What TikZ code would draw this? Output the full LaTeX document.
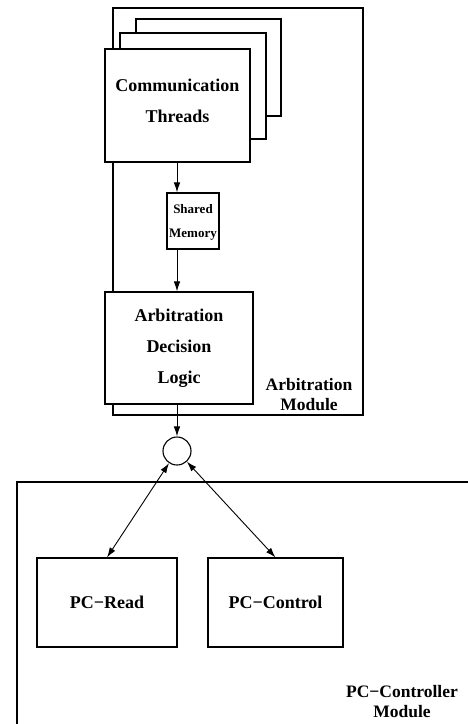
\documentclass[tikz,border=0pt]{standalone}
\usepackage{fontspec}
\setmainfont{Liberation Serif}
\usetikzlibrary{arrows.meta}
\begin{document}
\begin{tikzpicture}[x=1pt,y=-1pt,
  box/.style={draw,line width=1.1pt,fill=white,inner sep=0pt},
  module/.style={draw,line width=2pt},
  big/.style={font=\bfseries\fontsize{18}{31}\selectfont,align=center,inner sep=0pt},
  small/.style={font=\bfseries\fontsize{13}{24}\selectfont,align=center,inner sep=0pt},
  tag/.style={font=\bfseries\fontsize{17.5}{20}\selectfont,align=center,inner sep=0pt},
  tip/.style={Latex[length=10pt,width=6.5pt]},
  arr/.style={line width=0.9pt,-{Latex[length=10pt,width=6.5pt]}},
  biarr/.style={line width=0.9pt,{Latex[length=10pt,width=6.5pt]}-{Latex[length=10pt,width=6.5pt]}}]
\useasboundingbox (0,0) rectangle (468,724);
\clip (0,0) rectangle (468,724);

% Arbitration module frame
\draw[module] (113,8) rectangle (363,415);
\node[tag] (arblbl) at (309,395) {Arbitration\\Module};

% stack of communication threads
\node[box,minimum width=145pt,minimum height=97pt] (ct3) at (208.5,67.5) {};
\node[box,minimum width=146pt,minimum height=106pt] (ct2) at (193,86) {};
\node[box,minimum width=145pt,minimum height=113pt] (ct1) at (177.5,105.5) {};
\node[big] (ctlbl) at (177.5,101) {Communication\\Threads};

% shared memory
\node[box,minimum width=52pt,minimum height=56pt] (shm) at (193,221) {};
\node[small] (shmlbl) at (193,222) {Shared\\Memory};

% arbitration decision logic
\node[box,minimum width=148pt,minimum height=112pt,big] (adl) at (179,348) {Arbitration\\Decision\\Logic};

% junction
\node[draw,circle,line width=1.1pt,minimum size=28pt,inner sep=0pt] (junc) at (177,451) {};

\draw[arr] (ct1.south -| 177,0) -- (shm.north -| 177,0);
\draw[arr] (shm.south -| 177,0) -- (adl.north -| 177,0);
\draw[arr] (adl.south -| 177,0) -- (junc.north);

% PC-controller module frame
\draw[module] (17,740) -- (17,482) -- (480,482);
\node[tag] (pclbl) at (402,702) {PC−Controller\\Module};

\node[box,minimum width=140pt,minimum height=89pt,big] (pcr) at (107,602.5) {PC−Read};
\node[box,minimum width=135pt,minimum height=89pt,big] (pcc) at (275.5,602.5) {PC−Control};

\draw[biarr] (junc) -- (pcr.north);
\draw[biarr] (junc) -- (pcc.north);
\end{tikzpicture}
\end{document}
